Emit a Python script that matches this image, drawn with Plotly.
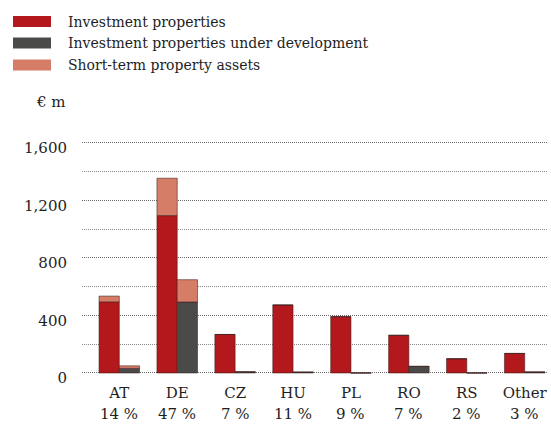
import plotly.graph_objects as go

categories = ["AT", "DE", "CZ", "HU", "PL", "RO", "RS", "Other"]
shares = ["14 %", "47 %", "7 %", "11 %", "9 %", "7 %", "2 %", "3 %"]
investment = [495, 1095, 268, 473, 392, 262, 99, 136]
short_term_a = [40, 260, 0, 0, 0, 0, 0, 0]
under_dev = [32, 494, 8, 6, 0, 46, 0, 7]
short_term_b = [18, 155, 0, 0, 0, 0, 0, 0]

series_names = ["Investment properties", "Investment properties under development",
                "Short-term property assets"]
colors = ["#b3191c", "#4a4a49", "#d67d67"]

FONT = "DejaVu Serif"
TXT = "#1e1e1e"
W, H = 551, 434
L, R, T, B = 82, 548, 140, 374
Y_RANGE = [-7, 1620.8]

base_a = investment
base_b = under_dev
line = dict(color="rgba(60,30,30,0.55)", width=1)

fig = go.Figure()
fig.add_bar(x=categories, y=investment, name=series_names[0], offsetgroup="a",
            marker=dict(color=colors[0], line=line))
fig.add_bar(x=categories, y=short_term_a, base=base_a, name=series_names[2], offsetgroup="a",
            marker=dict(color=colors[2], line=line))
fig.add_bar(x=categories, y=under_dev, name=series_names[1], offsetgroup="b",
            marker=dict(color=colors[1], line=line))
fig.add_bar(x=categories, y=short_term_b, base=base_b, name=series_names[2], offsetgroup="b",
            marker=dict(color=colors[2], line=line))


def px(xp):
    return (xp - L) / (R - L)


def py(yp):
    return (B - yp) / (B - T)


shapes = []
annotations = []
legend_rows = [21.5, 43, 65]
for name, col, yc in zip(series_names, colors, legend_rows):
    shapes.append(dict(type="rect", xref="paper", yref="paper",
                       x0=px(13), x1=px(51), y0=py(yc + 5.5), y1=py(yc - 5.5),
                       fillcolor=col, line=dict(width=0)))
    annotations.append(dict(text=name, xref="paper", yref="paper", x=px(66), y=py(yc),
                            xanchor="left", yanchor="middle", showarrow=False,
                            font=dict(family=FONT, size=14, color=TXT)))
annotations.append(dict(text="€ m", xref="paper", yref="paper", x=px(68), y=py(102),
                        xanchor="right", yanchor="middle", showarrow=False,
                        font=dict(family=FONT, size=15, color=TXT)))
for c, s in zip(categories, shares):
    annotations.append(dict(text=s, xref="x", yref="paper", x=c, y=py(414),
                            xanchor="center", yanchor="middle", showarrow=False,
                            font=dict(family=FONT, size=15, color=TXT)))

grid_dash = "1px,1px"
fig.update_layout(
    width=W, height=H,
    margin=dict(l=L, r=W - R, t=T, b=H - B, pad=0, autoexpand=False),
    paper_bgcolor="white", plot_bgcolor="white",
    barmode="group", bargap=0.30, bargroupgap=0,
    showlegend=False,
    shapes=shapes, annotations=annotations,
    font=dict(family=FONT, size=15, color=TXT),
)
fig.update_xaxes(
    type="category", range=[-0.644, 7.402], showgrid=False, zeroline=False,
    showline=False, ticks="", ticklabelstandoff=8, automargin=False,
    tickfont=dict(family=FONT, size=15, color=TXT),
)
fig.update_yaxes(
    range=Y_RANGE, tickvals=[0, 400, 800, 1200, 1600],
    ticktext=["0", "400", "800", "1,200", "1,600"],
    showgrid=True, gridcolor="#6a6a6a", griddash=grid_dash, gridwidth=1,
    minor=dict(tickvals=[200, 600, 1000, 1400], showgrid=True, gridcolor="#8a8a8a",
               griddash=grid_dash, gridwidth=1),
    zeroline=False, showline=False, ticks="", ticklabelstandoff=14, ticklabelshift=5,
    automargin=False, tickfont=dict(family=FONT, size=15, color=TXT),
)

fig.write_html("out.html", config={"displayModeBar": False},
               post_script="document.body.style.margin='0';document.body.style.overflow='hidden';")
